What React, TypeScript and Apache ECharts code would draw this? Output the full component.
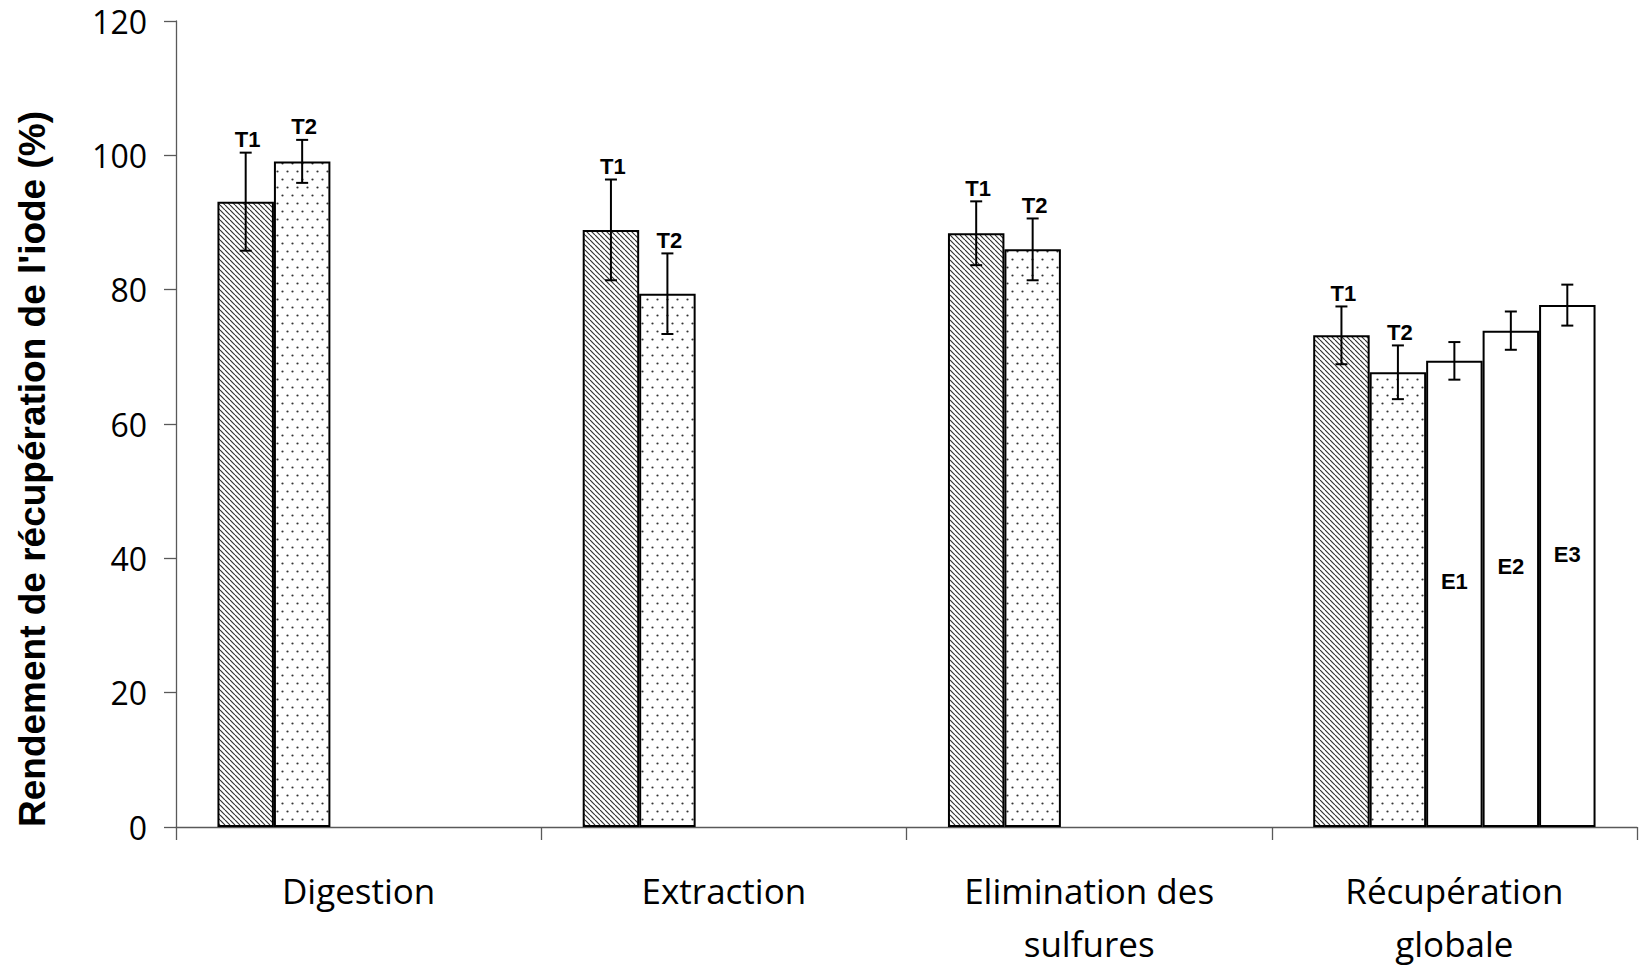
import React, { useEffect, useRef } from 'react';
import * as echarts from 'echarts';

const categories = ['Digestion', 'Extraction', 'Elimination des\nsulfures', 'Récupération\nglobale'];
const seriesNames = ['T1', 'T2', 'E1', 'E2', 'E3'];
const t1Values = [93.1, 88.9, 88.4, 73.2];
const t1Errors = [7.3, 7.5, 4.75, 4.3];
const t2Values = [99.1, 79.4, 86.0, 67.7];
const t2Errors = [3.2, 6.0, 4.6, 4.0];
const e1Values = [null, null, null, 69.4];
const e1Errors = [null, null, null, 2.8];
const e2Values = [null, null, null, 73.9];
const e2Errors = [null, null, null, 2.85];
const e3Values = [null, null, null, 77.7];
const e3Errors = [null, null, null, 3.05];
const yMin = 0;
const yMax = 120;
const yInterval = 20;
const yTitle = "Rendement de récupération de l'iode (%)";

const CAT_GAP = 0.227;
const N_SLOTS = 5;

function hatchPattern() {
  const s = 5;
  const c = document.createElement('canvas');
  c.width = s;
  c.height = s;
  const ctx = c.getContext('2d')!;
  ctx.fillStyle = '#fff';
  ctx.fillRect(0, 0, s, s);
  ctx.strokeStyle = '#333';
  ctx.lineWidth = 1.2;
  for (const k of [-s, 0, s]) {
    ctx.beginPath();
    ctx.moveTo(k, 0);
    ctx.lineTo(k + s, s);
    ctx.stroke();
  }
  return { image: c.toDataURL(), repeat: 'repeat', imageWidth: s, imageHeight: s };
}

function dotPattern() {
  const w = 10, h = 16;
  const c = document.createElement('canvas');
  c.width = w;
  c.height = h;
  const ctx = c.getContext('2d')!;
  ctx.fillStyle = '#fff';
  ctx.fillRect(0, 0, w, h);
  ctx.fillStyle = '#333';
  for (const [x, y] of [[2.5, 3.5], [7.5, 11.5]]) {
    ctx.beginPath();
    ctx.arc(x, y, 1.1, 0, Math.PI * 2);
    ctx.fill();
  }
  return { image: c.toDataURL(), repeat: 'repeat', imageWidth: w, imageHeight: h };
}

const LABEL_FONT = '"Liberation Sans", Arial, sans-serif';

function makeRender(slot: number, showLabel: boolean, name: string) {
  return (params: any, api: any) => {
    const cat = api.value(0);
    const v = api.value(1);
    const e = api.value(2);
    const band = api.size([1, 0])[0];
    const barW = (band * (1 - CAT_GAP)) / N_SLOTS;
    const cx = api.coord([cat, 0])[0] + (slot - (N_SLOTS - 1) / 2) * barW;
    const yTop = api.coord([cat, v + e])[1];
    const yBot = api.coord([cat, v - e])[1];
    const cap = 6;
    const st = { stroke: '#000', lineWidth: 2 };
    const children: any[] = [
      { type: 'line', shape: { x1: cx, y1: yTop, x2: cx, y2: yBot }, style: st },
      { type: 'line', shape: { x1: cx - cap, y1: yTop, x2: cx + cap, y2: yTop }, style: st },
      { type: 'line', shape: { x1: cx - cap, y1: yBot, x2: cx + cap, y2: yBot }, style: st },
    ];
    if (showLabel) {
      children.push({
        type: 'text',
        style: {
          text: name,
          x: cx + 2,
          y: yTop - 13,
          textAlign: 'center',
          textVerticalAlign: 'middle',
          align: 'center',
          verticalAlign: 'middle',
          font: `bold 22px ${LABEL_FONT}`,
          fill: '#000',
        },
      });
    }
    return { type: 'group', children };
  };
}

export default function App() {
  const ref = useRef<HTMLDivElement>(null);
  useEffect(() => {
    document.body.style.margin = '0';
    const chart = echarts.init(ref.current!, null, { renderer: 'svg' });
    const valuesList = [t1Values, t2Values, e1Values, e2Values, e3Values];
    const errorsList = [t1Errors, t2Errors, e1Errors, e2Errors, e3Errors];
    const fills: any[] = [hatchPattern(), dotPattern(), '#fff', '#fff', '#fff'];

    const barSeries = seriesNames.map((name, i) => ({
      type: 'bar',
      name,
      data: valuesList[i],
      barGap: '0%',
      barCategoryGap: `${CAT_GAP * 100}%`,
      itemStyle: { color: fills[i], borderColor: '#000', borderWidth: 2 },
      label:
        i >= 2
          ? {
              show: true,
              position: 'inside',
              offset: [0, -12],
              formatter: name,
              fontWeight: 'bold',
              fontSize: 22,
              fontFamily: LABEL_FONT,
              color: '#000',
            }
          : { show: false },
      z: 2,
    }));

    const errSeries = seriesNames.map((name, i) => ({
      type: 'custom',
      name: name + ' err',
      renderItem: makeRender(i, i < 2, name),
      data: valuesList[i]
        .map((v, k) => (v == null ? null : [k, v, errorsList[i][k]]))
        .filter((d) => d != null),
      encode: { x: 0, y: 1 },
      z: 5,
      silent: true,
    }));

    chart.setOption({
      animation: false,
      grid: { left: 176, right: 3, top: 21, bottom: 140, outerBoundsMode: 'none', containLabel: false },
      xAxis: {
        type: 'category',
        data: categories,
        axisLine: { show: true, lineStyle: { color: '#595959', width: 1.3 } },
        axisTick: { show: true, interval: 0, alignWithLabel: false, length: 13, lineStyle: { color: '#595959', width: 1.3 } },
        axisLabel: {
          interval: 0,
          margin: 37,
          fontSize: 35,
          lineHeight: 53,
          fontFamily: '"Open Sans", sans-serif',
          color: '#000',
        },
        splitLine: { show: false },
      },
      yAxis: {
        type: 'value',
        min: yMin,
        max: yMax,
        interval: yInterval,
        axisLine: { show: true, lineStyle: { color: '#595959', width: 1.3 } },
        axisTick: { show: true, length: 12, lineStyle: { color: '#595959', width: 1.3 } },
        axisLabel: {
          margin: 29,
          fontSize: 32,
          fontFamily: '"Open Sans", sans-serif',
          color: '#000',
        },
        splitLine: { show: false },
      },
      graphic: [
        {
          type: 'text',
          x: 32,
          y: 469,
          rotation: Math.PI / 2,
          style: {
            text: yTitle,
            font: `bold 37px ${LABEL_FONT}`,
            fill: '#000',
            textAlign: 'center',
            textVerticalAlign: 'middle',
            align: 'center',
            verticalAlign: 'middle',
          },
        },
      ],
      series: [...barSeries, ...errSeries],
    });
    return () => chart.dispose();
  }, []);
  return (
    <div
      ref={ref}
      style={{ position: 'fixed', left: 0, top: 0, width: 1640, height: 967, background: '#fff' }}
    />
  );
}
